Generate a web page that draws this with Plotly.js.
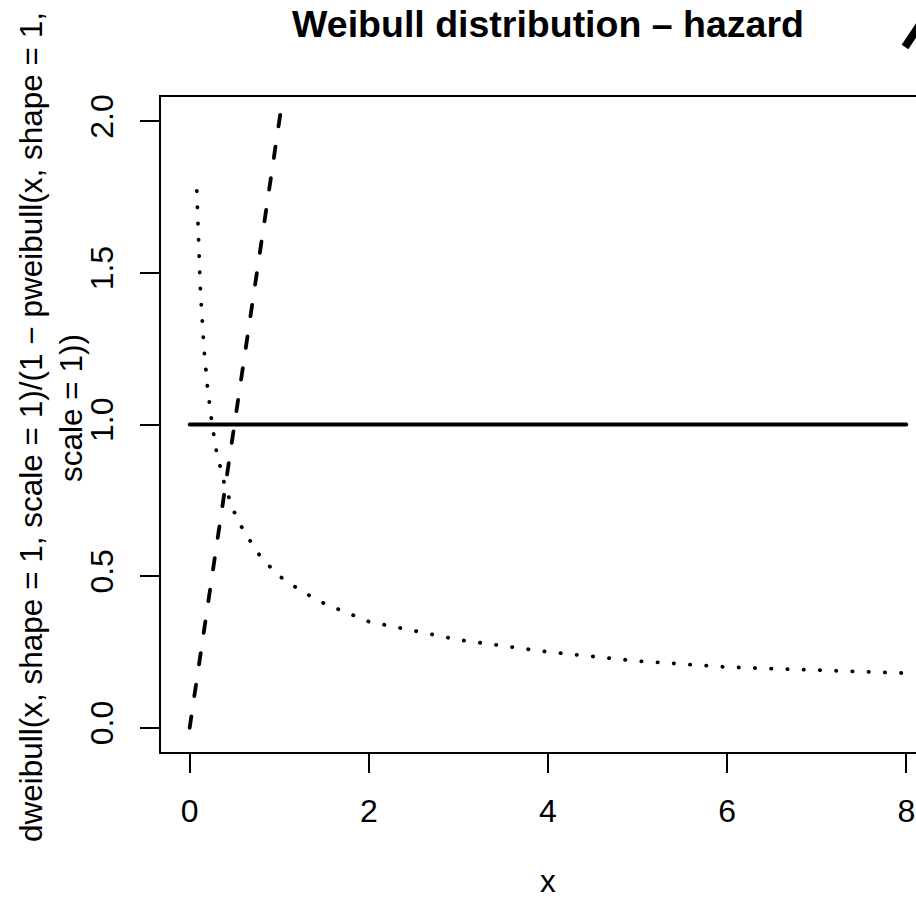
<!DOCTYPE html>
<html>
<head>
<meta charset="utf-8">
<script src="https://cdn.plot.ly/plotly-3.0.1.min.js"></script>
<style>
  html, body { margin: 0; padding: 0; overflow: hidden; background: #fff; }
  #plot { width: 1000px; height: 901px; }
  /* round line ends, as in base graphics */
  #plot .scatterlayer path.js-line { stroke-linecap: round; }
</style>
</head>
<body>
<div id="plot"></div>
<script>
// Weibull hazard functions h(x) for three shape parameters (scale = 1)
const xExp = [0, 8];            // shape = 1: constant hazard
const hExp = [1, 1];

const xShape2 = [0, 0.5, 1, 1.04];   // shape = 2: increasing hazard
const hShape2 = [0, 1, 2, 2.08];

const xShapeHalf = [0.08, 0.12, 0.16, 0.2, 0.25, 0.3, 0.4, 0.5, 0.6, 0.8, 1.0,
                    1.25, 1.5, 2, 2.5, 3, 3.5, 4, 5, 6, 7, 8];   // shape = 0.5: decreasing hazard
const hShapeHalf = [1.77, 1.44, 1.25, 1.12, 1.00, 0.91, 0.79, 0.71, 0.65, 0.56, 0.50,
                    0.45, 0.41, 0.35, 0.32, 0.29, 0.27, 0.25, 0.22, 0.20, 0.19, 0.18];

const xTicks = [0, 2, 4, 6, 8];
const yTicks = [0, 0.5, 1, 1.5, 2];
const yTickText = ['0.0', '0.5', '1.0', '1.5', '2.0'];

const mainTitle = 'Weibull distribution \u2013 hazard';
const xTitle = 'x';
const yTitleLine1 = 'dweibull(x, shape = 1, scale = 1)/(1 \u2212 pweibull(x, shape = 1,';
const yTitleLine2 = 'scale = 1))';

const FONT = 'Liberation Sans, Arial, Helvetica, sans-serif';
const FS_AXIS = 32;
const FS_LAB = 31.5;
const FS_MAIN = 37.5;
const LW = 3.8;

const traces = [
  { x: xExp, y: hExp, mode: 'lines', type: 'scatter',
    line: { color: '#000', width: LW }, hoverinfo: 'skip' },
  { x: xShape2, y: hShape2, mode: 'lines', type: 'scatter',
    line: { color: '#000', width: LW, dash: '11.5px,20.5px' }, hoverinfo: 'skip' },
  { x: xShapeHalf, y: hShapeHalf, mode: 'lines', type: 'scatter',
    line: { color: '#000', width: LW, dash: '0.3px,15.95px' }, hoverinfo: 'skip' }
];

const W = 1000, H = 901;
const M = { l: 161, r: 65, t: 97, b: 149 };
const PW = W - M.l - M.r, PH = H - M.t - M.b;
const px = v => (v - M.l) / PW;     // pixel -> paper x
const py = v => (H - M.b - v) / PH; // pixel -> paper y

const layout = {
  width: W, height: H, margin: M,
  paper_bgcolor: '#fff', plot_bgcolor: '#fff',
  showlegend: false,
  font: { family: FONT, size: FS_AXIS, color: '#000' },
  title: {
    text: mainTitle, font: { family: FONT, size: FS_MAIN, color: '#000', weight: 'bold' },
    xref: 'paper', x: 0.5, xanchor: 'center',
    yref: 'container', y: 1 - 24 / H, yanchor: 'middle'
  },
  xaxis: {
    range: [-0.32, 8.32], tickvals: xTicks, ticktext: xTicks.map(String),
    ticks: 'outside', ticklen: 19, tickwidth: 2, tickcolor: '#000',
    showline: true, mirror: true, linewidth: 2, linecolor: '#000',
    showgrid: false, zeroline: false, ticklabelstandoff: 11,
    tickfont: { family: FONT, size: FS_AXIS, color: '#000' }
  },
  yaxis: {
    range: [-0.08, 2.08], tickvals: yTicks, ticktext: yTickText, tickangle: -90,
    ticks: 'outside', ticklen: 19, tickwidth: 2, tickcolor: '#000',
    showline: true, mirror: true, linewidth: 2, linecolor: '#000',
    showgrid: false, zeroline: false, ticklabelstandoff: 14,
    tickfont: { family: FONT, size: FS_AXIS, color: '#000' }
  },
  annotations: [
    { text: xTitle, xref: 'paper', yref: 'paper', x: 0.5, y: py(901),
      xanchor: 'center', yanchor: 'bottom', showarrow: false,
      font: { family: FONT, size: FS_LAB, color: '#000' } },
    { text: yTitleLine1, xref: 'paper', yref: 'paper', x: px(31), y: py(427),
      xanchor: 'center', yanchor: 'middle', textangle: -90, showarrow: false,
      font: { family: FONT, size: FS_LAB, color: '#000' } },
    { text: yTitleLine2, xref: 'paper', yref: 'paper', x: px(71), y: py(408),
      xanchor: 'center', yanchor: 'middle', textangle: -90, showarrow: false,
      font: { family: FONT, size: FS_LAB, color: '#000' } }
  ],
  shapes: [
    { type: 'line', xref: 'paper', yref: 'paper',
      x0: px(905), y0: py(47), x1: px(925), y1: py(17),
      line: { color: '#000', width: 8 } }
  ]
};

Plotly.newPlot('plot', traces, layout, { displayModeBar: false, staticPlot: true });
</script>
</body>
</html>
